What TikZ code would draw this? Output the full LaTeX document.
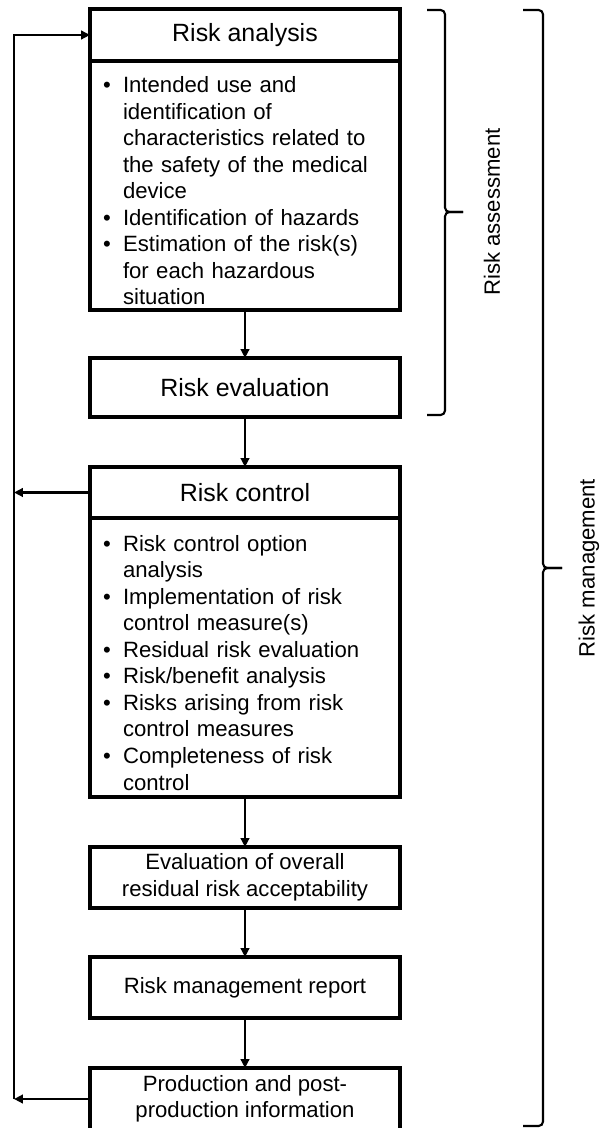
\documentclass[tikz,border=0pt]{standalone}
\usepackage{fontspec}
\setmainfont{Liberation Sans}
\usepackage{tikz}
\usetikzlibrary{arrows.meta,positioning}

% one bullet point with hanging indent
\newcommand{\bitem}[1]{\par\hangindent=0.4cm\hangafter=1\noindent\makebox[0.4cm][l]{\textbullet}#1}

\begin{document}
\begin{tikzpicture}[x=0.02cm, y=-0.02cm,
    box/.style={draw, line width=1.8pt, outer sep=0pt, minimum width=6.2cm, align=center,
        font=\fontsize{12.6}{15.1}\selectfont},
    headbox/.style={box, minimum height=1.04cm, font=\fontsize{14.2}{17}\selectfont},
    listbox/.style={box, text width=5.68cm, inner xsep=0.26cm, align=left},
    sidelabel/.style={rotate=90, font=\fontsize{12.6}{15.1}\selectfont},
    flow/.style={line width=1.3pt, -{Triangle[length=5pt,width=4.8pt]}},
    bracket/.style={line width=1.2pt, rounded corners=2.5pt}]
    \useasboundingbox (0,0) rectangle (601,1128);

    % Risk analysis
    \node[headbox, anchor=north] (ra) at (245,9) {Risk analysis};
    \node[listbox, minimum height=4.9cm, inner ysep=0.1cm, below=0pt of ra] (rab) {%
        \bitem{Intended use and\newline identification of\newline characteristics related to\newline the safety of the medical\newline device}
        \bitem{Identification of hazards}
        \bitem{Estimation of the risk(s)\newline for each hazardous\newline situation}\par};

    % Risk evaluation
    \node[headbox, minimum height=1.18cm, anchor=north] (re) at (245,358) {Risk evaluation};

    % Risk control
    \node[headbox, minimum height=1.02cm, anchor=north] (rc) at (245,467) {Risk control};
    \node[listbox, minimum height=5.58cm, below=0pt of rc] (rcb) {%
        \bitem{Risk control option\newline analysis}
        \bitem{Implementation of risk\newline control measure(s)}
        \bitem{Residual risk evaluation}
        \bitem{Risk/benefit analysis}
        \bitem{Risks arising from risk\newline control measures}
        \bitem{Completeness of risk\newline control}\par};

    % Lower boxes
    \node[box, minimum height=1.22cm, anchor=north] (eo) at (245,847) {Evaluation of overall\\residual risk acceptability};
    \node[box, minimum height=1.22cm, anchor=north] (rm) at (245,957) {Risk management report};
    \node[box, minimum height=1.24cm, anchor=north] (pp) at (245,1068) {Production and post-\\production information};

    % Main flow
    \draw[flow] (rab.south) -- (re.north);
    \draw[flow] (re.south) -- (rc.north);
    \draw[flow] (rcb.south) -- (eo.north);
    \draw[flow] (eo.south) -- (rm.north);
    \draw[flow] (rm.south) -- (pp.north);

    % Feedback line on the left
    \coordinate (fb) at (14,0);
    \draw[flow] (rc.west) -- (rc.west -| fb);
    \draw[flow] (pp.west) -- (pp.west -| fb);
    \draw[flow] (pp.west -| fb) -- (ra.west -| fb) -- (ra.west);

    % Brace: risk assessment
    \draw[bracket] (427,10) -- (445,10) -- (445,212) -- (463,212);
    \draw[bracket] (427,415) -- (445,415) -- (445,212) -- (463,212);
    \node[sidelabel] (rat) at (492,212) {Risk assessment};

    % Brace: risk management
    \draw[bracket] (523,10) -- (543,10) -- (543,568) -- (562,568);
    \draw[bracket] (523,1126) -- (543,1126) -- (543,568) -- (562,568);
    \node[sidelabel] (rmt) at (589,568) {Risk management};
\end{tikzpicture}
\end{document}
